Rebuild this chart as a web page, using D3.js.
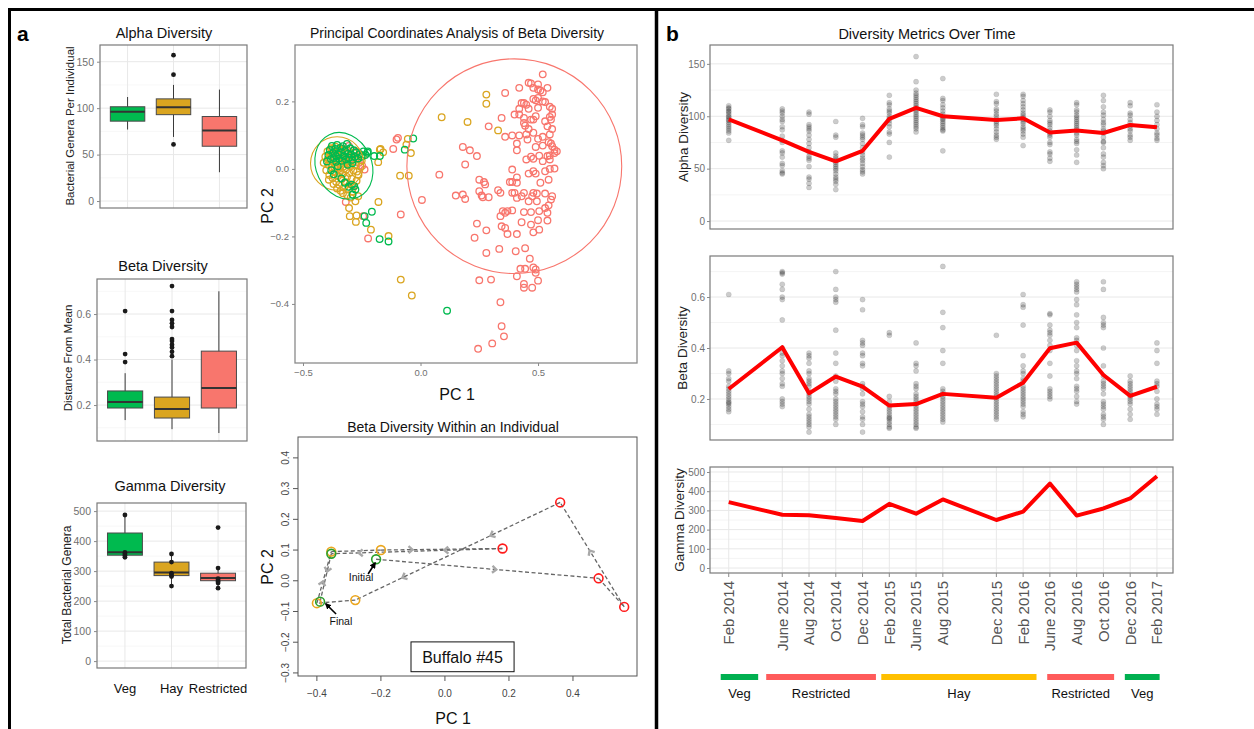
<!DOCTYPE html>
<html>
<head>
<meta charset="utf-8">
<script src="https://cdn.jsdelivr.net/npm/d3@7"></script>
<style>
  body { margin: 0; background: #fff; }
  text { font-family: "Liberation Sans", Arial, sans-serif; }
</style>
</head>
<body>
<svg id="fig"></svg>
<script>
// ---- data: panel a, box plots ----
const groups = ['Veg', 'Hay', 'Restricted'];
const groupFill = ['#00BA4F', '#DAA520', '#F8766D'];

const alphaBox = [
  {q1: 86, med: 96, q3: 101.5, lo: 77, hi: 112},
  {q1: 93, med: 101, q3: 110, lo: 69, hi: 125},
  {q1: 59, med: 76, q3: 91, lo: 31, hi: 120}
];
const alphaOut = [[], [157, 136, 61], []];

const betaBox = [
  {q1: 0.187, med: 0.213, q3: 0.262, lo: 0.134, hi: 0.34},
  {q1: 0.143, med: 0.183, q3: 0.235, lo: 0.094, hi: 0.40},
  {q1: 0.187, med: 0.275, q3: 0.437, lo: 0.077, hi: 0.70}
];
const betaOut = [[0.613, 0.424, 0.389],
  [0.723, 0.613, 0.574, 0.559, 0.543, 0.49, 0.481, 0.465, 0.453, 0.434, 0.415], []];

const gammaBox = [
  {q1: 353, med: 363, q3: 427, lo: 346, hi: 487},
  {q1: 285, med: 295, q3: 330, lo: 250, hi: 357},
  {q1: 268, med: 277, q3: 293, lo: 243, hi: 310}
];
const gammaPts = [[487, 362, 357, 352, 346], [357, 330, 293, 287, 282, 250], [445, 310, 275, 270, 265, 260, 243]];

// ---- data: PCoA of beta diversity (PC1, PC2) ----
const pcoaRed = [
  [0.52,0.28],[0.46,0.255],[0.47,0.253],[0.50,0.25],[0.42,0.24],[0.48,0.24],[0.50,0.235],[0.54,0.24],[0.51,0.232],[0.52,0.227],
  [0.36,0.225],[0.50,0.21],[0.48,0.207],[0.49,0.203],[0.52,0.20],[0.43,0.195],[0.44,0.195],[0.45,0.19],[0.53,0.198],[0.42,0.178],
  [0.46,0.178],[0.55,0.184],[0.56,0.178],[0.50,0.181],[0.40,0.161],[0.42,0.161],[0.44,0.151],[0.49,0.156],[0.47,0.146],[0.56,0.161],
  [0.55,0.154],[0.345,0.151],[0.44,0.136],[0.48,0.146],[0.53,0.141],[0.555,0.146],[0.29,0.126],[0.445,0.128],[0.46,0.118],[0.54,0.126],
  [0.56,0.118],[0.36,0.095],[0.39,0.099],[0.42,0.099],[0.45,0.102],[0.48,0.107],[0.52,0.095],[0.55,0.102],[0.455,0.087],[0.50,0.089],
  [0.41,0.075],[0.49,0.065],[0.52,0.069],[0.545,0.079],[0.555,0.075],[0.56,0.067],[0.57,0.057],[0.58,0.052],[0.18,0.065],[0.21,0.055],
  [0.41,0.055],[0.24,0.038],[0.54,0.038],[0.55,0.04],[0.57,0.047],[0.47,0.036],[0.505,0.039],[0.48,0.03],[0.52,0.023],[0.55,0.028],
  [0.19,0.013],[0.45,0.028],[0.39,-0.002],[0.48,-0.007],[0.49,-0.014],[0.53,-0.007],[0.55,0.0],[0.57,0.001],[0.46,-0.014],[0.08,-0.017],
  [0.41,-0.025],[0.25,-0.032],[0.27,-0.039],[0.275,-0.046],[0.38,-0.039],[0.39,-0.039],[0.41,-0.041],[0.51,-0.041],[0.545,-0.032],[0.33,-0.063],
  [0.39,-0.071],[0.25,-0.066],[0.15,-0.079],[0.18,-0.076],[0.19,-0.089],[0.26,-0.079],[0.265,-0.084],[0.29,-0.084],[0.006,-0.092],[0.34,-0.071],
  [0.40,-0.071],[0.44,-0.071],[0.48,-0.071],[0.495,-0.073],[0.53,-0.073],[0.56,-0.081],[0.555,-0.091],[0.475,-0.081],[0.43,-0.081],[0.46,-0.096],
  [0.495,-0.096],[0.545,-0.108],[0.53,-0.116],[0.41,-0.086],[0.35,-0.125],[0.36,-0.13],[0.39,-0.123],[0.37,-0.125],[0.44,-0.128],[0.47,-0.128],
  [0.505,-0.125],[0.54,-0.13],[0.34,-0.14],[0.345,-0.17],[0.50,-0.152],[0.54,-0.153],[0.24,-0.162],[0.43,-0.158],[0.36,-0.175],[0.28,-0.182],
  [0.47,-0.165],[0.505,-0.18],[0.48,-0.188],[0.41,-0.193],[0.37,-0.193],[0.23,-0.204],[0.28,-0.249],[0.335,-0.237],[0.405,-0.244],[0.445,-0.235],
  [0.465,-0.266],[0.425,-0.296],[0.445,-0.296],[0.48,-0.292],[0.49,-0.298],[0.49,-0.308],[0.41,-0.318],[0.25,-0.33],[0.30,-0.328],[0.50,-0.331],
  [0.44,-0.341],[0.44,-0.352],[0.475,-0.352],[0.34,-0.395],[0.345,-0.466],[0.355,-0.496],[0.305,-0.517],[0.245,-0.533],
  [-0.116,0.059],[-0.096,0.092],[-0.102,0.087],[-0.084,-0.135],[-0.223,-0.206],[-0.244,-0.14],[-0.318,-0.098],[-0.288,-0.049],
  [-0.356,0.043],[-0.338,0.052],[-0.314,0.021],[-0.292,0.032],[-0.262,0.018],[-0.248,0.009],[-0.238,-0.002],[-0.272,0.052],
  [-0.33,0.06],[-0.305,0.068]
];
const pcoaGold = [
  [0.28,0.22],[0.28,0.193],[0.09,0.153],[0.20,0.139],[0.33,0.114],[-0.054,0.089],[-0.06,0.072],[-0.041,0.047],[-0.173,0.057],[-0.087,-0.02],
  [-0.05,-0.02],[-0.179,-0.098],[-0.136,-0.199],[-0.18,0.02],[-0.17,0.059],[-0.159,0.049],[-0.084,-0.328],[-0.037,-0.375],[-0.304,-0.116],[-0.272,-0.138],
  [-0.275,-0.157],[-0.301,-0.14],[-0.211,-0.18],[-0.277,-0.096],[-0.265,-0.081],
  [-0.412,0.018],[-0.405,0.036],[-0.401,-0.004],[-0.396,0.052],[-0.392,0.012],[-0.388,-0.018],[-0.384,0.031],[-0.381,0.061],[-0.377,0.004],[-0.374,-0.027],
  [-0.371,0.044],[-0.368,0.019],[-0.365,-0.009],[-0.362,0.066],[-0.359,-0.038],[-0.357,0.027],[-0.354,0.003],[-0.351,-0.021],[-0.348,0.049],[-0.346,-0.047],
  [-0.343,0.014],[-0.341,-0.006],[-0.338,0.036],[-0.336,-0.031],[-0.333,0.058],[-0.331,-0.015],[-0.328,0.007],[-0.326,-0.055],[-0.323,0.026],[-0.321,-0.039],
  [-0.318,0.045],[-0.316,-0.002],[-0.313,-0.024],[-0.311,0.017],[-0.308,-0.061],[-0.306,0.034],[-0.303,-0.012],[-0.301,-0.045],[-0.298,0.008],[-0.296,0.041],
  [-0.293,-0.029],[-0.29,-0.068],[-0.288,0.022],[-0.285,-0.005],[-0.283,-0.052],[-0.279,0.037],[-0.276,0.012],[-0.272,-0.035],[-0.268,0.028],[-0.264,-0.018],
  [-0.26,0.041],[-0.255,0.006],[-0.25,0.025],[-0.245,0.038],[-0.395,0.028],[-0.379,0.047],[-0.367,0.033],[-0.36,0.012],[-0.352,0.041],[-0.345,0.026],
  [-0.335,0.018],[-0.325,0.048],[-0.37,-0.045],[-0.355,-0.058],[-0.34,-0.065],[-0.33,-0.072],[-0.312,-0.078],[-0.297,-0.085],[-0.385,0.042],[-0.375,0.056],
  [-0.34,0.055],[-0.31,0.054],[-0.39,-0.032],[-0.38,0.015],[-0.366,0.002],[-0.347,-0.012],[-0.33,0.032],[-0.3,0.022],[-0.285,0.048],[-0.27,-0.008]
];
const pcoaGreen = [
  [-0.031,0.09],[-0.067,0.057],[-0.238,-0.14],[-0.207,-0.127],[-0.231,-0.16],[-0.174,-0.208],[-0.136,-0.215],[0.113,-0.42],[-0.197,0.038],[-0.173,0.038],
  [-0.224,0.052],[-0.277,-0.061],[-0.289,-0.076],[-0.282,-0.051],
  [-0.398,0.022],[-0.392,0.041],[-0.386,0.056],[-0.381,0.029],[-0.377,0.068],[-0.372,0.047],[-0.368,0.032],[-0.363,0.059],[-0.359,0.021],[-0.355,0.071],
  [-0.351,0.044],[-0.347,0.031],[-0.342,0.062],[-0.338,0.049],[-0.334,0.024],[-0.33,0.067],[-0.326,0.038],[-0.321,0.053],[-0.317,0.028],[-0.313,0.074],
  [-0.308,0.045],[-0.304,0.033],[-0.299,0.061],[-0.294,0.042],[-0.289,0.027],[-0.284,0.055],[-0.279,0.036],[-0.273,0.049],[-0.266,0.031],[-0.259,0.044],
  [-0.251,0.036],[-0.243,0.052],[-0.235,0.041],[-0.226,0.048],[-0.38,-0.004],[-0.369,-0.016],[-0.352,0.008],[-0.337,-0.028],[-0.322,-0.041],[-0.306,-0.053],
  [-0.292,-0.047],[-0.31,0.012],[-0.36,0.038],[-0.29,0.017]
];
// confidence ellipses: centre, half-widths (data units), screen tilt (deg)
const ellipses = [
  {cx: 0.399, cy: 0.008, rx: 0.457, ry: 0.318, tilt: 0, color: '#F8766D'},
  {cx: -0.355, cy: 0.016, rx: 0.113, ry: 0.079, tilt: 0, color: '#DAA520'},
  {cx: -0.326, cy: 0.009, rx: 0.118, ry: 0.102, tilt: -25, color: '#00BA4F'}
];

// ---- data: one buffalo's trajectory ----
const indivPC1 = [-0.215, 0.48, 0.56, 0.36, -0.28, -0.40, -0.355, -0.20, 0.18, -0.355, -0.39];
const indivPC2 = [0.07, 0.008, -0.085, 0.255, -0.063, -0.073, 0.095, 0.10, 0.105, 0.088, -0.068];
const indivDiet = ['Veg', 'Restricted', 'Restricted', 'Restricted', 'Hay', 'Hay', 'Hay', 'Hay', 'Restricted', 'Veg', 'Veg'];
const indivArrows = [[0.54], [], [0.54], [0.34, 0.77], [], [0.42], [], [0.26], [0.34, 0.84], [0.37]];

// ---- data: panel b, time series ----
const months = ['Feb 2014', 'June 2014', 'Aug 2014', 'Oct 2014', 'Dec 2014', 'Feb 2015', 'June 2015', 'Aug 2015',
  'Dec 2015', 'Feb 2016', 'June 2016', 'Aug 2016', 'Oct 2016', 'Dec 2016', 'Feb 2017'];
const slots = [0, 2, 3, 4, 5, 6, 7, 8, 10, 11, 12, 13, 14, 15, 16];
const alphaMean = [97, 77, 66, 57, 67, 97.5, 108, 100, 96.5, 98, 84.5, 86.5, 84, 91.7, 89.5];
const betaMean = [0.239, 0.403, 0.222, 0.288, 0.248, 0.174, 0.180, 0.220, 0.205, 0.264, 0.399, 0.421, 0.294, 0.212, 0.248];
const gammaTotal = [343, 277, 275, 261, 245, 334, 283, 357, 250, 294, 440, 273, 310, 362, 478];

const alphaDots = [
  [110,108,107,105,104,102,100,99,97,96,94,92,90,88,86,84,77],
  [107,105,103,100,97,95,90,87,81,77,75,67,65,61,55,53,48,46,45],
  [104,102,92,90,88,86,82,78,74,70,66,62,60,58,52,42,40,36,32],
  [95,82,80,65,62,60,58,56,54,52,50,48,45,42,40,38,35,30],
  [98,92,90,84,82,80,78,74,70,66,63,60,58,55,52,49,47,45],
  [120,113,111,107,105,103,100,98,96,93,90,85,83,75,61],
  [157,133,125,122,120,118,116,114,112,110,108,106,104,102,100,98,96,94,92,90,88,85],
  [136,117,115,111,108,105,102,100,98,97,95,93,91,89,87,86,67],
  [121,114,112,107,105,102,100,97,95,93,91,88,85,82,80,78],
  [121,119,115,112,109,106,103,101,99,97,95,93,90,88,86,83,80,72],
  [106,104,100,96,94,92,89,86,84,82,80,75,73,66,64,60,57],
  [113,111,106,104,101,99,97,95,93,91,89,87,84,82,78,76,74,68,63,56],
  [120,115,109,104,101,97,94,92,88,86,84,80,76,75,70,64,61,56,53,50],
  [113,110,103,101,97,94,91,88,86,82,80,77],
  [111,104,100,96,92,88,84,82,79,77]
];
const betaDots = [
  [0.61,0.31,0.30,0.28,0.27,0.25,0.24,0.23,0.22,0.21,0.20,0.19,0.185,0.18,0.17,0.16,0.15],
  [0.70,0.695,0.69,0.65,0.63,0.60,0.59,0.51,0.40,0.38,0.37,0.35,0.33,0.31,0.30,0.28,0.26,0.25,0.20,0.19,0.18,0.17],
  [0.38,0.37,0.36,0.34,0.31,0.30,0.28,0.27,0.26,0.25,0.23,0.22,0.21,0.20,0.19,0.18,0.16,0.14,0.13,0.12,0.11,0.10,0.09,0.07],
  [0.70,0.63,0.60,0.59,0.58,0.47,0.38,0.34,0.29,0.27,0.24,0.23,0.22,0.20,0.19,0.18,0.17,0.16,0.15,0.14,0.13,0.12,0.10],
  [0.59,0.55,0.43,0.42,0.41,0.38,0.37,0.34,0.33,0.26,0.25,0.24,0.22,0.19,0.18,0.17,0.15,0.13,0.12,0.10,0.07],
  [0.46,0.45,0.21,0.19,0.17,0.16,0.15,0.14,0.13,0.125,0.12,0.11,0.10,0.09,0.085],
  [0.42,0.34,0.33,0.31,0.26,0.25,0.24,0.22,0.21,0.20,0.19,0.18,0.17,0.16,0.15,0.14,0.13,0.12,0.11,0.10,0.09,0.085],
  [0.72,0.54,0.48,0.39,0.34,0.24,0.23,0.22,0.21,0.20,0.19,0.18,0.17,0.16,0.15,0.14,0.13,0.12,0.11],
  [0.45,0.30,0.29,0.28,0.27,0.26,0.25,0.24,0.23,0.22,0.21,0.20,0.19,0.18,0.17,0.16,0.15,0.14,0.13,0.12],
  [0.61,0.57,0.56,0.49,0.37,0.33,0.31,0.30,0.28,0.27,0.25,0.24,0.23,0.22,0.21,0.20,0.19,0.18,0.17,0.15,0.14,0.13],
  [0.535,0.53,0.49,0.47,0.46,0.45,0.43,0.41,0.39,0.34,0.29,0.24,0.23,0.22,0.21,0.20],
  [0.66,0.65,0.64,0.63,0.62,0.59,0.57,0.53,0.50,0.48,0.44,0.43,0.41,0.39,0.35,0.33,0.31,0.30,0.28,0.25,0.24,0.23,0.21,0.19,0.18],
  [0.66,0.63,0.52,0.50,0.49,0.48,0.40,0.33,0.29,0.27,0.26,0.25,0.24,0.22,0.19,0.18,0.17,0.16,0.14,0.13,0.12,0.10],
  [0.29,0.27,0.26,0.25,0.24,0.23,0.22,0.21,0.20,0.19,0.18,0.16,0.14,0.12],
  [0.42,0.39,0.34,0.27,0.26,0.25,0.23,0.20,0.18,0.17,0.16,0.14]
];
// diet periods along the time axis, in slot units
const dietNames = ['Veg', 'Restricted', 'Hay', 'Restricted', 'Veg'];
const dietStart = [-0.3, 1.4, 5.7, 11.9, 14.8];
const dietEnd = [1.1, 5.5, 11.5, 14.4, 16.1];
const dietColor = ['#00B050', '#FF5B5B', '#FFC000', '#FF5B5B', '#00B050'];

// ---- setup ----
const width = 1254, height = 729;
const calibri = 'Lato, "Open Sans", sans-serif';
const tickGray = '#707070';
const svg = d3.select('#fig').attr('width', width).attr('height', height);
svg.append('rect').attr('width', width).attr('height', height).attr('fill', '#fff');

const styleAxis = (g, size) => {
  g.select('.domain').remove();
  g.selectAll('.tick line').attr('stroke', '#8a8a8a');
  g.selectAll('.tick text').attr('fill', tickGray).attr('font-size', size || 10)
    .attr('font-family', '"Liberation Sans", Arial, sans-serif');
};

const hGrid = (g, y, vals, x0, x1, color, w) => {
  g.selectAll(null).data(vals).enter().append('line')
    .attr('x1', x0).attr('x2', x1).attr('y1', d => y(d)).attr('y2', d => y(d))
    .attr('stroke', color).attr('stroke-width', w);
};

const title = (txt, x, y, size) => {
  svg.append('text').attr('x', x).attr('y', y).attr('text-anchor', 'middle')
    .attr('font-family', calibri).attr('font-size', size).attr('fill', '#111').text(txt);
};

const vLabel = (txt, x, y, size, font) => {
  svg.append('text').attr('transform', `translate(${x},${y}) rotate(-90)`).attr('text-anchor', 'middle')
    .attr('font-size', size).attr('fill', '#222').attr('font-family', font || null).text(txt);
};

// ---- panel a: box plots ----
const boxPanel = (o) => {
  const x = d3.scalePoint().domain(groups).range([o.left, o.right]).padding(0.6);
  const y = d3.scaleLinear().domain(o.yDomain).range([o.bottom, o.top]);
  const g = svg.append('g');
  hGrid(g, y, o.minor, o.left, o.right, '#f3f3f3', 0.7);
  hGrid(g, y, o.major, o.left, o.right, '#e8e8e8', 1);
  g.selectAll(null).data(groups).enter().append('line')
    .attr('x1', d => x(d)).attr('x2', d => x(d)).attr('y1', o.top).attr('y2', o.bottom)
    .attr('stroke', '#e8e8e8');
  const bw = x.step() * 0.75;
  o.stats.forEach((s, i) => {
    const cx = x(groups[i]);
    g.append('line').attr('x1', cx).attr('x2', cx).attr('y1', y(s.lo)).attr('y2', y(s.hi))
      .attr('stroke', '#3a3a3a').attr('stroke-width', 1);
    g.append('rect').attr('x', cx - bw / 2).attr('width', bw)
      .attr('y', y(s.q3)).attr('height', y(s.q1) - y(s.q3))
      .attr('fill', groupFill[i]).attr('stroke', '#4a4a4a').attr('stroke-width', 1);
    g.append('line').attr('x1', cx - bw / 2).attr('x2', cx + bw / 2).attr('y1', y(s.med)).attr('y2', y(s.med))
      .attr('stroke', '#333').attr('stroke-width', 2);
    g.selectAll(null).data(o.points[i]).enter().append('circle')
      .attr('cx', cx).attr('cy', d => y(d)).attr('r', 2.4).attr('fill', '#1a1a1a');
  });
  g.append('rect').attr('x', o.left).attr('y', o.top).attr('width', o.right - o.left).attr('height', o.bottom - o.top)
    .attr('fill', 'none').attr('stroke', '#7a7a7a').attr('stroke-width', 1.2);
  const ax = g.append('g').attr('transform', `translate(${o.left},0)`)
    .call(d3.axisLeft(y).tickValues(o.major).tickSize(3).tickPadding(3).tickFormat(o.fmt));
  styleAxis(ax, 10.5);
  if (o.xLabels) {
    g.selectAll(null).data(groups).enter().append('text')
      .attr('x', d => x(d)).attr('y', o.bottom + 25).attr('text-anchor', 'middle')
      .attr('font-family', calibri).attr('font-size', 13).attr('fill', '#111').text(d => d);
  }
};

boxPanel({left: 100, right: 247, top: 45, bottom: 208, yDomain: [-7.5, 168],
  major: [0, 50, 100, 150], minor: [25, 75, 125], fmt: d3.format('d'), stats: alphaBox, points: alphaOut});
title('Alpha Diversity', 164, 38, 14.5);
vLabel('Bacterial Genera Per Individual', 74, 126, 11.5);

boxPanel({left: 97, right: 247, top: 279, bottom: 441, yDomain: [0.042, 0.754],
  major: [0.2, 0.4, 0.6], minor: [0.1, 0.3, 0.5, 0.7], fmt: d3.format('.1f'), stats: betaBox, points: betaOut});
title('Beta Diversity', 163, 271, 14.5);
vLabel('Distance From Mean', 72, 358, 11.5);

boxPanel({left: 97, right: 246, top: 503, bottom: 668, yDomain: [-23, 527],
  major: [0, 100, 200, 300, 400, 500], minor: [50, 150, 250, 350, 450], fmt: d3.format('d'),
  stats: gammaBox, points: gammaPts, xLabels: true});
title('Gamma Diversity', 170, 491, 14.5);
vLabel('Total Bacterial Genera', 71, 585, 12);

// ---- panel a: PCoA ----
const xP = d3.scaleLinear().domain([-0.534, 0.921]).range([295, 637]);
const yP = d3.scaleLinear().domain([-0.575, 0.367]).range([363, 45]);
const gP = svg.append('g');
const drawRings = (pts, color) => {
  gP.selectAll(null).data(pts).enter().append('circle')
    .attr('cx', d => xP(d[0])).attr('cy', d => yP(d[1])).attr('r', 3.3)
    .attr('fill', 'none').attr('stroke', color).attr('stroke-width', 1.3);
};
drawRings(pcoaRed, '#F8766D');
drawRings(pcoaGold, '#DAA520');
drawRings(pcoaGreen, '#00BA4F');
gP.selectAll(null).data(ellipses).enter().append('ellipse')
  .attr('cx', d => xP(d.cx)).attr('cy', d => yP(d.cy))
  .attr('rx', d => xP(d.cx + d.rx) - xP(d.cx)).attr('ry', d => yP(d.cy) - yP(d.cy + d.ry))
  .attr('transform', d => `rotate(${d.tilt},${xP(d.cx)},${yP(d.cy)})`)
  .attr('fill', 'none').attr('stroke', d => d.color).attr('stroke-width', 1.1);
gP.append('rect').attr('x', 295).attr('y', 45).attr('width', 342).attr('height', 318)
  .attr('fill', 'none').attr('stroke', '#8a8a8a').attr('stroke-width', 1.3);
styleAxis(gP.append('g').attr('transform', 'translate(0,363)')
  .call(d3.axisBottom(xP).tickValues([-0.5, 0, 0.5]).tickSize(3).tickFormat(d3.format('.1f'))), 9.5);
styleAxis(gP.append('g').attr('transform', 'translate(295,0)')
  .call(d3.axisLeft(yP).tickValues([-0.4, -0.2, 0, 0.2]).tickSize(3).tickFormat(d3.format('.1f'))), 9.5);
title('Principal Coordinates Analysis of Beta Diversity', 457, 38, 14);
title('PC 1', 457, 400, 16);
svg.append('text').attr('transform', 'translate(273,206) rotate(-90)').attr('text-anchor', 'middle')
  .attr('font-family', calibri).attr('font-size', 16).attr('fill', '#111').text('PC 2');

// ---- panel a: one individual ----
const xI = d3.scaleLinear().domain([-0.459, 0.6]).range([298, 637]);
const yI = d3.scaleLinear().domain([-0.31, 0.468]).range([676, 437]);
const indivColor = {Veg: '#2CA02C', Hay: '#EBA61E', Restricted: '#FF1A1A'};
const gI = svg.append('g');
const segs = d3.pairs(d3.range(indivPC1.length));
gI.selectAll(null).data(segs).enter().append('line')
  .attr('x1', d => xI(indivPC1[d[0]])).attr('y1', d => yI(indivPC2[d[0]]))
  .attr('x2', d => xI(indivPC1[d[1]])).attr('y2', d => yI(indivPC2[d[1]]))
  .attr('stroke', '#666').attr('stroke-width', 1.3).attr('stroke-dasharray', '4,2.5');
segs.forEach((s, i) => {
  const x0 = xI(indivPC1[s[0]]), y0 = yI(indivPC2[s[0]]);
  const x1 = xI(indivPC1[s[1]]), y1 = yI(indivPC2[s[1]]);
  const ang = Math.atan2(y1 - y0, x1 - x0) * 180 / Math.PI;
  indivArrows[i].forEach(f => {
    gI.append('path').attr('d', 'M-4,-3.5L0,0L-4,3.5')
      .attr('transform', `translate(${x0 + f * (x1 - x0)},${y0 + f * (y1 - y0)}) rotate(${ang})`)
      .attr('fill', 'none').attr('stroke', '#a8a8a8').attr('stroke-width', 2.4);
  });
});
gI.selectAll(null).data(indivPC1).enter().append('circle')
  .attr('cx', d => xI(d)).attr('cy', (d, i) => yI(indivPC2[i])).attr('r', 4.4)
  .attr('fill', 'none').attr('stroke', (d, i) => indivColor[indivDiet[i]]).attr('stroke-width', 1.6);
gI.append('rect').attr('x', 298).attr('y', 437).attr('width', 339).attr('height', 239)
  .attr('fill', 'none').attr('stroke', '#555').attr('stroke-width', 1);
// base-graphics style ticks
const xTicksI = [-0.4, -0.2, 0, 0.2, 0.4];
const yTicksI = [-0.3, -0.2, -0.1, 0, 0.1, 0.2, 0.3, 0.4];
gI.selectAll(null).data(xTicksI).enter().append('line')
  .attr('x1', d => xI(d)).attr('x2', d => xI(d)).attr('y1', 676).attr('y2', 681).attr('stroke', '#555');
gI.selectAll(null).data(xTicksI).enter().append('text')
  .attr('x', d => xI(d)).attr('y', 697).attr('text-anchor', 'middle').attr('font-size', 10).attr('fill', '#444')
  .text(d => d3.format('.1f')(d));
gI.selectAll(null).data(yTicksI).enter().append('line')
  .attr('x1', 293).attr('x2', 298).attr('y1', d => yI(d)).attr('y2', d => yI(d)).attr('stroke', '#555');
gI.selectAll(null).data(yTicksI).enter().append('text')
  .attr('transform', d => `translate(289,${yI(d)}) rotate(-90)`).attr('text-anchor', 'middle')
  .attr('font-size', 10).attr('fill', '#444').text(d => d3.format('.1f')(d));
// annotations
const note = (txt, tx, ty, ax0, ay0, ax1, ay1) => {
  gI.append('line').attr('x1', xI(ax0)).attr('y1', yI(ay0)).attr('x2', xI(ax1)).attr('y2', yI(ay1))
    .attr('stroke', '#000').attr('stroke-width', 1.6).attr('marker-end', 'url(#head)');
  gI.append('text').attr('x', xI(tx)).attr('y', yI(ty)).attr('text-anchor', 'middle')
    .attr('font-family', calibri).attr('font-size', 10.5).attr('fill', '#111').text(txt);
};
svg.append('defs').append('marker').attr('id', 'head').attr('viewBox', '0 0 10 10')
  .attr('refX', 8).attr('refY', 5).attr('markerWidth', 4).attr('markerHeight', 4).attr('orient', 'auto')
  .append('path').attr('d', 'M0,0L10,5L0,10z').attr('fill', '#000');
note('Initial', -0.262, -0.0, -0.24, 0.022, -0.218, 0.058);
note('Final', -0.325, -0.143, -0.34, -0.108, -0.372, -0.075);
gI.append('rect').attr('x', xI(-0.106)).attr('y', yI(-0.199)).attr('width', xI(0.216) - xI(-0.106))
  .attr('height', yI(-0.296) - yI(-0.199)).attr('fill', '#fff').attr('stroke', '#111').attr('stroke-width', 1);
gI.append('text').attr('x', xI(0.055)).attr('y', yI(-0.247) + 6).attr('text-anchor', 'middle')
  .attr('font-family', calibri).attr('font-size', 16).attr('fill', '#111').text('Buffalo #45');
title('Beta Diversity Within an Individual', 453, 432, 14);
title('PC 1', 453, 724, 16);
svg.append('text').attr('transform', 'translate(273,567) rotate(-90)').attr('text-anchor', 'middle')
  .attr('font-family', calibri).attr('font-size', 16).attr('fill', '#111').text('PC 2');

// ---- panel b: diversity over time ----
const xT = d3.scaleLinear().domain([-0.7, 16.6]).range([710, 1173]);
const tsPanel = (o) => {
  const y = d3.scaleLinear().domain(o.yDomain).range([o.bottom, o.top]);
  const g = svg.append('g');
  hGrid(g, y, o.minor, 710, 1173, '#f1f1f1', 0.8);
  hGrid(g, y, o.major, 710, 1173, '#e8e8e8', 1);
  if (o.vgrid) {
    g.selectAll(null).data(slots).enter().append('line')
      .attr('x1', d => xT(d)).attr('x2', d => xT(d)).attr('y1', o.top).attr('y2', o.bottom)
      .attr('stroke', '#e8e8e8');
  }
  if (o.dots) {
    const flat = o.dots.flatMap((vals, i) => vals.map(v => [slots[i], v]));
    g.selectAll(null).data(flat).enter().append('circle')
      .attr('cx', d => xT(d[0])).attr('cy', d => y(d[1])).attr('r', 2.6)
      .attr('fill', '#000').attr('fill-opacity', 0.2)
      .attr('stroke', '#000').attr('stroke-opacity', 0.12).attr('stroke-width', 0.6);
  }
  g.append('path').datum(o.mean)
    .attr('d', d3.line().x((d, i) => xT(slots[i])).y(d => y(d)))
    .attr('fill', 'none').attr('stroke', '#FF0000').attr('stroke-width', 4).attr('stroke-linejoin', 'round');
  g.append('rect').attr('x', 710).attr('y', o.top).attr('width', 463).attr('height', o.bottom - o.top)
    .attr('fill', 'none').attr('stroke', '#7a7a7a').attr('stroke-width', 1.2);
  styleAxis(g.append('g').attr('transform', 'translate(710,0)')
    .call(d3.axisLeft(y).tickValues(o.major).tickSize(3).tickPadding(2).tickFormat(o.fmt)), 10);
  vLabel(o.label, o.labelX, (o.top + o.bottom) / 2, 13.5);
  return y;
};

tsPanel({top: 45, bottom: 229, yDomain: [-7.6, 168], major: [0, 50, 100, 150], minor: [25, 75, 125],
  fmt: d3.format('d'), mean: alphaMean, dots: alphaDots, label: 'Alpha Diversity', labelX: 688});
tsPanel({top: 256, bottom: 440, yDomain: [0.039, 0.761], major: [0.2, 0.4, 0.6], minor: [0.1, 0.3, 0.5, 0.7],
  fmt: d3.format('.1f'), mean: betaMean, dots: betaDots, label: 'Beta Diversity', labelX: 687});
tsPanel({top: 467, bottom: 573, yDomain: [-26, 526], major: [0, 100, 200, 300, 400, 500],
  minor: [50, 150, 250, 350, 450], fmt: d3.format('d'), mean: gammaTotal, label: 'Gamma Diversity',
  labelX: 684, vgrid: true});

// time axis
const gT = svg.append('g');
gT.selectAll(null).data(slots).enter().append('line')
  .attr('x1', d => xT(d)).attr('x2', d => xT(d)).attr('y1', 573).attr('y2', 577).attr('stroke', '#8a8a8a');
gT.selectAll(null).data(months).enter().append('text')
  .attr('transform', (d, i) => `translate(${xT(slots[i])},581) rotate(-90)`)
  .attr('text-anchor', 'end').attr('dy', '0.36em').attr('font-size', 15).attr('fill', '#555').text(d => d);

// diet bars
gT.selectAll(null).data(dietNames).enter().append('rect')
  .attr('x', (d, i) => xT(dietStart[i])).attr('width', (d, i) => xT(dietEnd[i]) - xT(dietStart[i]))
  .attr('y', 674).attr('height', 6).attr('fill', (d, i) => dietColor[i]);
gT.selectAll(null).data(dietNames).enter().append('text')
  .attr('x', (d, i) => xT((dietStart[i] + dietEnd[i]) / 2)).attr('y', 698).attr('text-anchor', 'middle')
  .attr('font-family', calibri).attr('font-size', 13).attr('fill', '#111').text(d => d);

title('Diversity Metrics Over Time', 927, 39, 14.5);

// ---- frame and panel letters ----
svg.append('path').attr('d', 'M9.5,729V9.5H1254').attr('fill', 'none').attr('stroke', '#000').attr('stroke-width', 3);
svg.append('line').attr('x1', 656.5).attr('x2', 656.5).attr('y1', 9).attr('y2', 729)
  .attr('stroke', '#000').attr('stroke-width', 3.5);
svg.append('text').attr('x', 17).attr('y', 41).attr('font-size', 21).attr('font-weight', 'bold').text('a');
svg.append('text').attr('x', 666).attr('y', 41).attr('font-size', 21).attr('font-weight', 'bold').text('b');
</script>
</body>
</html>
